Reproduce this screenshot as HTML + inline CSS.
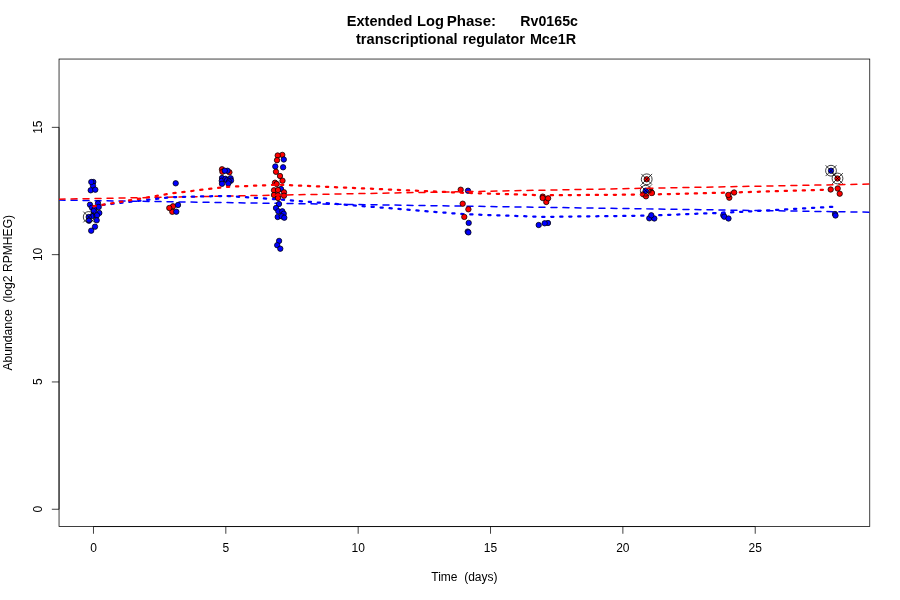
<!DOCTYPE html><html><head><meta charset="utf-8"><title>plot</title>
<style>html,body{margin:0;padding:0;background:#fff}svg{display:block;will-change:transform}text{font-family:"Liberation Sans",Arial,Helvetica,sans-serif;fill:#000}</style></head><body>
<svg width="900" height="600" viewBox="0 0 900 600">
<rect width="900" height="600" fill="#fff"/>
<rect x="59.04" y="59.04" width="810.72" height="467.52" fill="none" stroke="#000" stroke-width="0.75"/>
<path d="M93.47 526.56H755.22M93.47 526.56v7.2M225.82 526.56v7.2M358.17 526.56v7.2M490.52 526.56v7.2M622.87 526.56v7.2M755.22 526.56v7.2" fill="none" stroke="#000" stroke-width="0.75"/>
<text x="93.47" y="551.7" font-size="12" text-anchor="middle">0</text>
<text x="225.82" y="551.7" font-size="12" text-anchor="middle">5</text>
<text x="358.17" y="551.7" font-size="12" text-anchor="middle">10</text>
<text x="490.52" y="551.7" font-size="12" text-anchor="middle">15</text>
<text x="622.87" y="551.7" font-size="12" text-anchor="middle">20</text>
<text x="755.22" y="551.7" font-size="12" text-anchor="middle">25</text>
<path d="M59.04 509.25V127.35M59.04 509.25h-7.2M59.04 381.95h-7.2M59.04 254.65h-7.2M59.04 127.35h-7.2" fill="none" stroke="#000" stroke-width="0.75"/>
<text transform="translate(41.9 509.05) rotate(-90)" font-size="12" text-anchor="middle">0</text>
<text transform="translate(41.9 381.75) rotate(-90)" font-size="12" text-anchor="middle">5</text>
<text transform="translate(41.9 254.45) rotate(-90)" font-size="12" text-anchor="middle">10</text>
<text transform="translate(41.9 127.15) rotate(-90)" font-size="12" text-anchor="middle">15</text>
<text x="464.4" y="580.5" font-size="12" text-anchor="middle" xml:space="preserve">Time  (days)</text>
<text transform="translate(12.3 292.7) rotate(-90)" font-size="12.13" text-anchor="middle" xml:space="preserve">Abundance  (log2 RPMHEG)</text>
<text transform="translate(0 26) scale(1 1.07)" font-size="14.4" font-weight="bold"><tspan x="346.79" textLength="65.55" lengthAdjust="spacingAndGlyphs">Extended</tspan> <tspan x="416.98" textLength="26.92" lengthAdjust="spacingAndGlyphs">Log</tspan> <tspan x="446.68" textLength="49.49" lengthAdjust="spacingAndGlyphs">Phase:</tspan> <tspan x="520.34" textLength="57.61" lengthAdjust="spacingAndGlyphs">Rv0165c</tspan></text>
<text transform="translate(0 44) scale(1 1.07)" font-size="14.4" font-weight="bold"><tspan x="355.96" textLength="101.69" lengthAdjust="spacingAndGlyphs">transcriptional</tspan> <tspan x="462.71" textLength="62.25" lengthAdjust="spacingAndGlyphs">regulator</tspan> <tspan x="529.88" textLength="46.38" lengthAdjust="spacingAndGlyphs">Mce1R</tspan></text>
<defs><clipPath id="c"><rect x="59.04" y="59.04" width="810.72" height="467.52"/></clipPath><clipPath id="c1"><rect x="59.04" y="59.04" width="180.96" height="467.52"/></clipPath><clipPath id="c2"><rect x="240" y="59.04" width="629.76" height="467.52"/></clipPath></defs>
<g fill="none" stroke-linecap="round" clip-path="url(#c)">
<path d="M59.04 200.1L869.76 212.2" stroke="#0000ff" stroke-width="1.5" stroke-dasharray="6 6"/>
<path d="M59.04 199.2L869.76 184.1" stroke="#ff0000" stroke-width="1.5" stroke-dasharray="6 6" clip-path="url(#c1)"/>
<path d="M93.47 206.00L172.88 197.10L225.82 195.90L278.76 199.40L464.05 214.20L543.46 216.90L649.34 215.60L728.75 212.50L834.63 206.70" stroke="#0000ff" stroke-width="2.25" stroke-dasharray="2.25 6.75" stroke-linejoin="round"/>
</g>
<g stroke="#000" stroke-width="0.75">
<circle cx="93.3" cy="182" r="2.7" fill="#0000ff"/>
<circle cx="93" cy="185.7" r="2.7" fill="#0000ff"/>
<circle cx="91.3" cy="182" r="2.7" fill="#0000ff"/>
<circle cx="90.7" cy="190.3" r="2.7" fill="#0000ff"/>
<circle cx="95.3" cy="189.7" r="2.7" fill="#0000ff"/>
<circle cx="90" cy="204.7" r="2.7" fill="#0000ff"/>
<circle cx="98" cy="203.3" r="2.7" fill="#0000ff"/>
<circle cx="92" cy="207.7" r="2.7" fill="#0000ff"/>
<circle cx="94.6" cy="209" r="2.7" fill="#0000ff"/>
<circle cx="98.7" cy="207" r="2.7" fill="#0000ff"/>
<circle cx="93.7" cy="211" r="2.7" fill="#0000ff"/>
<circle cx="99.3" cy="213" r="2.7" fill="#0000ff"/>
<circle cx="97" cy="215.3" r="2.7" fill="#0000ff"/>
<circle cx="92.3" cy="216" r="2.7" fill="#0000ff"/>
<circle cx="88.7" cy="217" r="2.7" fill="#0000ff"/>
<circle cx="89" cy="220.7" r="2.7" fill="#0000ff"/>
<circle cx="96.7" cy="220.3" r="2.7" fill="#0000ff"/>
<circle cx="95" cy="226.7" r="2.7" fill="#0000ff"/>
<circle cx="91.2" cy="230.7" r="2.7" fill="#0000ff"/>
<circle cx="172.3" cy="211.8" r="2.7" fill="#ff0000"/>
<circle cx="173" cy="206.3" r="2.7" fill="#ff0000"/>
<circle cx="169.3" cy="208" r="2.7" fill="#ff0000"/>
<circle cx="175.7" cy="183.3" r="2.7" fill="#0000ff"/>
<circle cx="178" cy="205" r="2.7" fill="#0000ff"/>
<circle cx="176.3" cy="211.7" r="2.7" fill="#0000ff"/>
<circle cx="222" cy="169.3" r="2.7" fill="#ff0000"/>
<circle cx="222.4" cy="171.8" r="2.7" fill="#ff0000"/>
<circle cx="229.4" cy="172.3" r="2.7" fill="#ff0000"/>
<circle cx="227.5" cy="170.75" r="2.7" fill="#0000ff"/>
<circle cx="224.75" cy="170.75" r="2.7" fill="#0000ff"/>
<circle cx="222" cy="178" r="2.7" fill="#0000ff"/>
<circle cx="221.8" cy="180.8" r="2.7" fill="#0000ff"/>
<circle cx="222" cy="183.8" r="2.7" fill="#0000ff"/>
<circle cx="225.5" cy="178.8" r="2.7" fill="#0000ff"/>
<circle cx="227" cy="180.2" r="2.7" fill="#0000ff"/>
<circle cx="230.6" cy="178.3" r="2.7" fill="#0000ff"/>
<circle cx="231" cy="180.6" r="2.7" fill="#0000ff"/>
<circle cx="229" cy="181.5" r="2.7" fill="#0000ff"/>
<circle cx="228.3" cy="183.4" r="2.7" fill="#0000ff"/>
<circle cx="282.3" cy="154.9" r="2.7" fill="#ff0000"/>
<circle cx="277.7" cy="155.5" r="2.7" fill="#ff0000"/>
<circle cx="277" cy="160.2" r="2.7" fill="#ff0000"/>
<circle cx="283.8" cy="159.5" r="2.7" fill="#0000ff"/>
<circle cx="275.3" cy="166.5" r="2.7" fill="#0000ff"/>
<circle cx="283.1" cy="167.3" r="2.7" fill="#0000ff"/>
<circle cx="276" cy="171.8" r="2.7" fill="#ff0000"/>
<circle cx="280" cy="176" r="2.7" fill="#ff0000"/>
<circle cx="282.5" cy="180.7" r="2.7" fill="#ff0000"/>
<circle cx="275" cy="182.7" r="2.7" fill="#ff0000"/>
<circle cx="276.7" cy="184" r="2.7" fill="#ff0000"/>
<circle cx="281" cy="189" r="2.7" fill="#0000ff"/>
<circle cx="274" cy="190.3" r="2.7" fill="#ff0000"/>
<circle cx="278" cy="190" r="2.7" fill="#ff0000"/>
<circle cx="284" cy="192.3" r="2.7" fill="#ff0000"/>
<circle cx="274" cy="195" r="2.7" fill="#ff0000"/>
<circle cx="278" cy="195.3" r="2.7" fill="#ff0000"/>
<circle cx="284" cy="195.7" r="2.7" fill="#ff0000"/>
<circle cx="278" cy="198" r="2.7" fill="#ff0000"/>
<circle cx="279" cy="204" r="2.7" fill="#0000ff"/>
<circle cx="276" cy="208" r="2.7" fill="#0000ff"/>
<circle cx="278.3" cy="211.3" r="2.7" fill="#0000ff"/>
<circle cx="282.3" cy="211.3" r="2.7" fill="#0000ff"/>
<circle cx="283.7" cy="213.7" r="2.7" fill="#0000ff"/>
<circle cx="277.7" cy="217" r="2.7" fill="#0000ff"/>
<circle cx="281.7" cy="216.3" r="2.7" fill="#0000ff"/>
<circle cx="284.3" cy="217.7" r="2.7" fill="#0000ff"/>
<circle cx="279.1" cy="240.9" r="2.7" fill="#0000ff"/>
<circle cx="277.2" cy="245.2" r="2.7" fill="#0000ff"/>
<circle cx="280.3" cy="248.7" r="2.7" fill="#0000ff"/>
<circle cx="460.7" cy="189.7" r="2.7" fill="#ff0000"/>
<circle cx="468" cy="190.7" r="2.7" fill="#0000ff"/>
<circle cx="462.7" cy="203.7" r="2.7" fill="#ff0000"/>
<circle cx="468.4" cy="209.3" r="2.7" fill="#ff0000"/>
<circle cx="464.3" cy="216.9" r="2.7" fill="#ff0000"/>
<circle cx="468.7" cy="222.9" r="2.7" fill="#0000ff"/>
<circle cx="467.7" cy="231.6" r="2.7" fill="#0000ff"/>
<circle cx="468.4" cy="232.4" r="2.7" fill="#0000ff"/>
<circle cx="646.7" cy="179.3" r="2.7" fill="#ff0000"/>
<circle cx="651" cy="191.7" r="2.7" fill="#ff0000"/>
<circle cx="652" cy="193" r="2.7" fill="#ff0000"/>
<circle cx="643.3" cy="194.3" r="2.7" fill="#ff0000"/>
<circle cx="646" cy="196.3" r="2.7" fill="#ff0000"/>
<circle cx="645.7" cy="190.7" r="2.7" fill="#0000ff"/>
<circle cx="723.3" cy="215.3" r="2.7" fill="#0000ff"/>
<circle cx="724.3" cy="216.7" r="2.7" fill="#0000ff"/>
<circle cx="728.5" cy="218.5" r="2.7" fill="#0000ff"/>
<circle cx="831" cy="170.7" r="2.7" fill="#0000ff"/>
<circle cx="837.5" cy="178.5" r="2.7" fill="#ff0000"/>
</g>
<g fill="none" stroke="#000" stroke-width="0.75">
<circle cx="88.7" cy="217" r="5.4"/><path d="M83.30 211.60L94.10 222.40M83.30 222.40L94.10 211.60"/>
<circle cx="646.7" cy="179.3" r="5.4"/><path d="M641.30 173.90L652.10 184.70M641.30 184.70L652.10 173.90"/>
<circle cx="645.7" cy="190.7" r="5.4"/><path d="M640.30 185.30L651.10 196.10M640.30 196.10L651.10 185.30"/>
<circle cx="831" cy="170.7" r="5.4"/><path d="M825.60 165.30L836.40 176.10M825.60 176.10L836.40 165.30"/>
<circle cx="837.5" cy="178.5" r="5.4"/><path d="M832.10 173.10L842.90 183.90M832.10 183.90L842.90 173.10"/>
</g>
<g fill="none" stroke-linecap="round">
<path d="M59.04 199.2L869.76 184.1" stroke="#ff0000" stroke-width="1.5" stroke-dasharray="6 6" clip-path="url(#c2)"/>
<path d="M93.47 206.30L172.88 193.20L225.82 186.90L278.76 184.70L464.05 192.80L543.46 195.30L649.34 194.50L728.75 192.60L834.63 189.50" stroke="#ff0000" stroke-width="2.25" stroke-dasharray="2.25 6.75" stroke-linejoin="round"/>
</g>
<defs><clipPath id="c3"><rect x="715" y="205" width="12" height="12"/></clipPath></defs>
<path d="M93.47 206.00L172.88 197.10L225.82 195.90L278.76 199.40L464.05 214.20L543.46 216.90L649.34 215.60L728.75 212.50L834.63 206.70" fill="none" stroke-linecap="round" stroke="#0000ff" stroke-width="2.25" stroke-dasharray="2.25 6.75" stroke-linejoin="round" clip-path="url(#c3)"/>
<g stroke="#000" stroke-width="0.75">
<circle cx="546.3" cy="202" r="2.7" fill="#ff0000"/>
<circle cx="542.7" cy="196.6" r="2.7" fill="#ff0000"/>
<circle cx="542.7" cy="198" r="2.7" fill="#ff0000"/>
<circle cx="548.1" cy="198.3" r="2.7" fill="#ff0000"/>
<circle cx="538.7" cy="225" r="2.7" fill="#0000ff"/>
<circle cx="548" cy="223" r="2.7" fill="#0000ff"/>
<circle cx="544.7" cy="223.3" r="2.7" fill="#0000ff"/>
<circle cx="649.3" cy="218.3" r="2.7" fill="#0000ff"/>
<circle cx="654.3" cy="218.5" r="2.7" fill="#0000ff"/>
<circle cx="651.3" cy="215.3" r="2.7" fill="#0000ff"/>
<circle cx="734.1" cy="192.5" r="2.7" fill="#ff0000"/>
<circle cx="729.3" cy="197.7" r="2.7" fill="#ff0000"/>
<circle cx="728.3" cy="195" r="2.7" fill="#ff0000"/>
<circle cx="830.7" cy="189.5" r="2.7" fill="#ff0000"/>
<circle cx="837.7" cy="188.5" r="2.7" fill="#ff0000"/>
<circle cx="839.7" cy="193.7" r="2.7" fill="#ff0000"/>
<circle cx="835" cy="214" r="2.7" fill="#0000ff"/>
<circle cx="835.5" cy="215.5" r="2.7" fill="#0000ff"/>
</g>
</svg></body></html>
